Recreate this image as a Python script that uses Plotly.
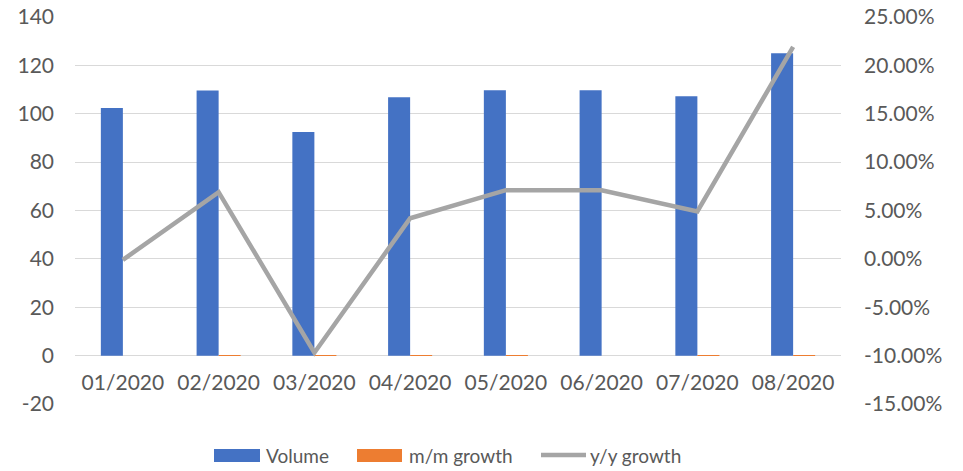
import plotly.graph_objects as go

months = ["01/2020", "02/2020", "03/2020", "04/2020", "05/2020", "06/2020", "07/2020", "08/2020"]
volume = [102.4, 109.6, 92.5, 106.8, 109.7, 109.7, 107.2, 125.0]
mm_growth = [0.0, 0.07, -0.12, 0.15, 0.03, 0.0, -0.02, 0.16]
yy_growth = [-0.001, 0.069, -0.097, 0.042, 0.071, 0.071, 0.049, 0.219]

# axis ticks (labels written with a plain hyphen for negatives)
left_ticks = [-20, 0, 20, 40, 60, 80, 100, 120, 140]
left_labels = ["-20", "0", "20", "40", "60", "80", "100", "120", "140"]
right_ticks = [-0.15, -0.10, -0.05, 0.0, 0.05, 0.10, 0.15, 0.20, 0.25]
right_labels = ["-15.00%", "-10.00%", "-5.00%", "0.00%", "5.00%",
                "10.00%", "15.00%", "20.00%", "25.00%"]

BLUE = "#4472c4"
ORANGE = "#ed7d31"
GREY = "#a5a5a5"
TEXT = "#595959"
GRID = "#d9d9d9"
FONT = "Lato, 'Open Sans', sans-serif"
TICK_SIZE = 21

# plot area in pixels (width 963, height 471)
L, R, T, B = 75, 841, 17, 404
W, H = R - L, B - T


def px(x):
    return (x - L) / W


def py(y):
    return (B - y) / H


fig = go.Figure()
fig.add_trace(go.Bar(x=months, y=volume, name="Volume", marker_color=BLUE,
                     marker_line_width=0, showlegend=False))
fig.add_trace(go.Bar(x=months, y=mm_growth, name="m/m growth", marker_color=ORANGE,
                     marker_line_width=0, showlegend=False))
fig.add_trace(go.Scatter(x=months, y=yy_growth, name="y/y growth", yaxis="y2",
                         mode="lines", line=dict(color=GREY, width=4.5),
                         showlegend=False))

# the category axis crosses the value axis at 0
zero_pos = (0 - left_ticks[0]) / (left_ticks[-1] - left_ticks[0])

fig.update_layout(
    width=963, height=471,
    margin=dict(l=L, r=963 - R, t=T, b=471 - B, autoexpand=False),
    paper_bgcolor="white", plot_bgcolor="white",
    font=dict(family=FONT, size=TICK_SIZE, color=TEXT),
    barmode="group", bargap=0.54, bargroupgap=0,
    xaxis=dict(anchor="free", position=zero_pos, showgrid=False, showline=False,
               ticks="", automargin=False, ticklabelstandoff=12,
               tickfont=dict(size=TICK_SIZE, color=TEXT)),
    yaxis=dict(range=[left_ticks[0], left_ticks[-1]], tickmode="array",
               tickvals=left_ticks, ticktext=left_labels,
               showgrid=True, gridcolor=GRID, gridwidth=1,
               zeroline=True, zerolinecolor=GRID, zerolinewidth=1,
               showline=False, ticks="", ticklabelstandoff=20, automargin=False,
               tickfont=dict(size=TICK_SIZE, color=TEXT)),
    yaxis2=dict(range=[right_ticks[0], right_ticks[-1]], tickmode="array",
                tickvals=right_ticks, ticktext=right_labels,
                overlaying="y", side="right", showgrid=False, zeroline=False,
                showline=False, ticks="", ticklabelstandoff=22, automargin=False,
                tickfont=dict(size=TICK_SIZE, color=TEXT)),
    showlegend=False,
)

# legend drawn below the plot
ly = 455
shapes = [
    dict(type="rect", xref="paper", yref="paper", x0=px(214), x1=px(260),
         y0=py(462), y1=py(449), fillcolor=BLUE, line_width=0),
    dict(type="rect", xref="paper", yref="paper", x0=px(357), x1=px(402),
         y0=py(462), y1=py(449), fillcolor=ORANGE, line_width=0),
    dict(type="line", xref="paper", yref="paper", x0=px(541), x1=px(586),
         y0=py(ly), y1=py(ly), line=dict(color=GREY, width=4.5)),
]
labels = [("Volume", 264), ("m/m growth", 407), ("y/y growth", 588)]
annotations = [
    dict(text=t, xref="paper", yref="paper", x=px(x0), y=py(ly), xanchor="left",
         yanchor="middle", showarrow=False, font=dict(size=19, color=TEXT))
    for t, x0 in labels
]
fig.update_layout(shapes=shapes, annotations=annotations)

fig.write_html("out.html")
